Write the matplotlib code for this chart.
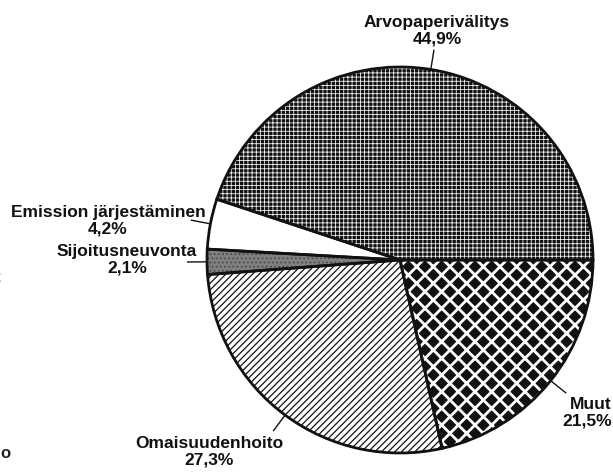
import numpy as np
import matplotlib
matplotlib.use("Agg")
import matplotlib.pyplot as plt

plt.rcParams['font.family'] = ['Liberation Sans', 'DejaVu Sans']

# shares of the pie, counterclockwise from 3 o'clock
labels = ["Arvopaperivälitys", "Emission järjestäminen", "Sijoitusneuvonta",
          "Omaisuudenhoito", "Muut"]
shares = [44.9, 4.2, 2.1, 27.3, 21.5]
share_text = ["44,9%", "4,2%", "2,1%", "27,3%", "21,5%"]

W, H = 613, 472
cx, cy, r = 400, 260, 193   # pie centre / radius in pixels (from top-left)

fig = plt.figure(figsize=(W / 100, H / 100), dpi=100)
fig.patch.set_facecolor("white")
ax = fig.add_axes([(cx - r) / W, (H - cy - r) / H, 2 * r / W, 2 * r / H])

# fills: face, hatch colour, hatch, hatch linewidth
fills = [("#111111", "white", "++++", 0.55),
         ("white", "white", "", 1.0),
         ("#808080", "#4a4a4a", "....", 0.8),
         ("white", "#111111", "/////", 0.9),
         ("#111111", "white", "xx", 2.0)]

wedges, _ = ax.pie(shares, startangle=0, counterclock=True, radius=1)
for w, (fc, hc, hatch, hlw) in zip(wedges, fills):
    w.set_facecolor(fc)
    w.set_edgecolor(hc)
    w.set_hatch(hatch)
    w.set_linewidth(0)
    if hasattr(w, "set_hatch_linewidth"):
        w.set_hatch_linewidth(hlw)
    else:
        w._hatch_linewidth = hlw

# black outlines on top
ax.pie(shares, startangle=0, counterclock=True, radius=1,
       wedgeprops=dict(fill=False, edgecolor="#111111", linewidth=2))
ax.set_xlim(-1, 1)
ax.set_ylim(-1, 1)
ax.set_aspect("equal")
ax.axis("off")

# leader lines at the middle of each wedge
cum = np.cumsum([0] + shares)
mids = np.deg2rad((cum[:-1] + cum[1:]) / 2 * 3.6)
for a in mids:
    ax.plot([np.cos(a), 1.1 * np.cos(a)], [np.sin(a), 1.1 * np.sin(a)],
            color="#111111", lw=1, clip_on=False)

def px(x, y):
    return x / W, 1 - y / H

# label positions (pixels, top-left origin) and alignment
label_pos = [(437, 31, "center"), (108, 221, "center"), (127, 260, "center"),
             (209, 452, "center"), (612, 413, "right")]
for name, pct, (x, y, ha) in zip(labels, share_text, label_pos):
    fig.text(*px(x, y), name + "\n" + pct, ha=ha, va="center",
             fontsize=12.5, fontweight="bold", color="#111111",
             linespacing=1.1, multialignment="center" if ha == "center" else "right")

# cut-off text from the neighbouring figure at the left edge
fig.text(*px(-5, 277), "t", ha="left", va="center", fontsize=12,
         fontweight="bold", color="#222222")
fig.text(*px(0, 453), "o", ha="left", va="center", fontsize=12,
         fontweight="bold", color="#222222")

fig.savefig("out.png", dpi=100, facecolor="white")
